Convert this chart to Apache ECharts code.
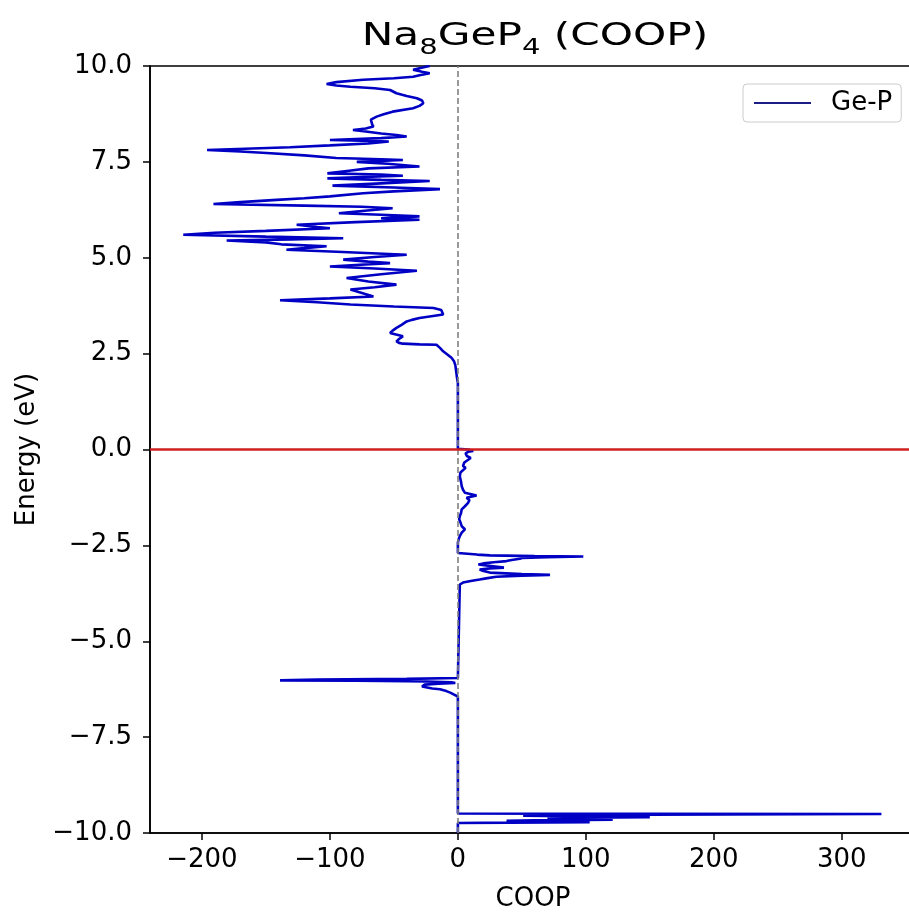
<!DOCTYPE html>
<html>
<head>
<meta charset="utf-8">
<script src="https://cdn.jsdelivr.net/npm/echarts@6/dist/echarts.min.js"></script>
<style>
html,body{margin:0;padding:0;background:#fff;}
#chart{width:909px;height:914px;}
</style>
</head>
<body>
<div id="chart"></div>
<script>
// Energy (eV) along the curve, top to bottom
const energy = [
  10.0, 9.98, 9.94, 9.9, 9.85, 9.81, 9.76, 9.72, 9.68, 9.64, 9.58, 9.53, 9.49, 9.46, 9.42, 9.375,
  9.29, 9.22, 9.16, 9.1, 9.03, 8.96, 8.9, 8.81, 8.74, 8.68, 8.6, 8.55, 8.48, 8.42, 8.37, 8.33,
  8.29, 8.24, 8.2, 8.16, 8.12, 8.07, 8.05, 8.03, 7.98, 7.93, 7.88, 7.81, 7.77, 7.73, 7.67, 7.6,
  7.57, 7.55, 7.5, 7.45, 7.38, 7.33, 7.27, 7.2, 7.17, 7.14, 7.1, 7.07, 7.03, 7.0, 6.94, 6.88,
  6.83, 6.79, 6.73, 6.68, 6.6, 6.55, 6.51, 6.45, 6.4, 6.36, 6.33, 6.29, 6.22, 6.16, 6.12, 6.08,
  6.03, 5.99, 5.93, 5.86, 5.8, 5.77, 5.7, 5.65, 5.6, 5.55, 5.51, 5.48, 5.45, 5.4, 5.35, 5.3,
  5.25, 5.21, 5.15, 5.08, 5.02, 4.95, 4.9, 4.86, 4.81, 4.77, 4.72, 4.66, 4.57, 4.47, 4.38, 4.3,
  4.23, 4.17, 4.08, 3.99, 3.94, 3.89, 3.84, 3.78, 3.73, 3.69, 3.64, 3.6, 3.52, 3.47, 3.43, 3.38,
  3.34, 3.25, 3.17, 3.1, 3.04, 2.98, 2.95, 2.88, 2.82, 2.78, 2.76, 2.74, 2.73, 2.65, 2.56, 2.47,
  2.39, 2.3, 2.2, 2.0, 1.85, 1.74, 0.02,
  0.0, -0.04, -0.06, -0.1, -0.17, -0.22, -0.26, -0.34, -0.43, -0.48, -0.52, -0.6, -0.7, -0.85,
  -0.96, -1.05, -1.13, -1.2, -1.26, -1.32, -1.39, -1.48, -1.56, -1.65, -1.74, -1.82, -1.9, -2.0,
  -2.08, -2.17, -2.26, -2.35, -2.43, -2.7, -2.71, -2.74, -2.76, -2.78, -2.79, -2.81, -2.83, -2.85,
  -2.88, -2.91, -2.94, -2.97, -3.0, -3.04, -3.08, -3.1, -3.13, -3.17, -3.21, -3.25, -3.27, -3.29,
  -3.32, -3.36, -3.39, -3.43, -3.47, -3.52, -3.56, -5.96, -5.98, -6.0, -6.02, -6.03, -6.04, -6.05,
  -6.07, -6.09, -6.11, -6.13, -6.15, -6.18, -6.21, -6.23, -6.25, -6.3, -6.34, -6.39, -6.44, -9.49,
  -9.5, -9.505, -9.52, -9.55, -9.57, -9.59, -9.61, -9.63, -9.65, -9.67, -9.68, -9.7, -9.72, -9.73,
  -9.74, -10.0
];
// COOP value (Ge-P) at each energy
const coop = [
  -22, -25, -30, -35, -28, -22, -30, -35, -50, -74, -95, -102.6, -95, -84, -65, -53,
  -48, -40, -32, -28, -27, -30, -35, -51, -58, -63.5, -68, -69, -67, -66, -72, -82,
  -72, -60, -48, -40, -60, -100, -75, -54, -70, -100, -131, -196, -170, -149.5, -120, -95,
  -60, -43, -79, -55, -30, -70, -85, -102, -60, -43, -80, -102, -60, -22, -60, -98,
  -50, -14, -50, -74, -100, -120, -141.6, -170, -191, -120, -75, -51, -75, -93, -60, -30,
  -60, -30, -80, -126, -110, -100, -150, -190, -214.6, -150, -89.6, -130, -180.7, -150, -138, -102.6,
  -120, -134, -90, -40, -65, -89.6, -70, -53, -80, -100, -65, -32, -60, -87, -70, -48,
  -65, -84, -75, -66, -100, -139, -110, -84, -50, -19, -13, -11.5, -11.5, -11.5, -30, -36,
  -40, -44, -48, -51, -53, -46, -43, -46, -48, -46, -43, -30, -16.7, -14, -11.5, -8,
  -5, -3, -2, -1.2, -0.6, 0, 0,
  8, 12, 8, 6, 7, 10, 9, 5, 4, 6, 5, 2, 1.5, 2.5,
  3, 4, 5.5, 14.6, 6.8, 9, 8, 5.5, 3, 2.5, 1.5, 1, 2, 3,
  5.5, 3, 1.5, 0.5, 0, 0, 1.5, 15, 25, 60, 98, 70, 50, 48.4,
  42, 38, 28, 20, 16, 14.6, 36, 25, 17, 20, 25, 50, 72, 50,
  30, 22, 17, 10, 4, 1.5, 0, 0, -40, -110, -139, -80, -40, -24.5,
  -5, -2, -15, -26, -24.5, -28, -27, -20, -14, -9, -6, -3, 0, 0,
  150, 331, 150, 51, 100, 150, 70, 100, 121, 60, 38, 80, 103, 40,
  0, 0
];
const xTicks = [-200, -100, 0, 100, 200, 300];
const xRange = [-240.6, 358];
const yRange = [-10, 10];
const yStep = 2.5;
const seriesName = 'Ge-P';
const fermiLevel = 0;
const zeroCoop = 0;

const FONT = 'DejaVu Sans';
const fmtMinus = s => s.replace('-', '\u2212');

const chart = echarts.init(document.getElementById('chart'), null, {renderer: 'canvas'});
const data = energy.map((e, i) => [coop[i], e]);

chart.setOption({
  animation: false,
  backgroundColor: '#ffffff',
  grid: {
    left: 150, top: 66, width: 766, height: 767,
    outerBoundsMode: 'none', containLabel: false,
    show: true, borderColor: '#000', borderWidth: 1.6, backgroundColor: 'transparent'
  },
  graphic: [{
    type: 'text',
    x: 535, y: 37,
    scaleX: 1.32,
    style: {
      text: 'Na{s|8}GeP{s|4} (COOP)',
      fontFamily: FONT, fontSize: 32, lineHeight: 43,
      fill: '#000', align: 'center', verticalAlign: 'middle',
      rich: {
        s: {fontFamily: FONT, fontSize: 22, lineHeight: 21, padding: [22, 0, 0, 0], fill: '#000'}
      }
    }
  }],
  legend: {
    data: [{name: seriesName, itemStyle: {opacity: 0}, lineStyle: {color: '#1c1c86', width: 2}}],
    left: 743, top: 84,
    padding: [6, 9, 6, 10],
    itemWidth: 57, itemHeight: 20,
    backgroundColor: '#fff',
    borderColor: '#cccccc', borderWidth: 1, borderRadius: 4,
    textStyle: {fontFamily: FONT, fontSize: 26, color: '#000', padding: [0, 0, 0, 15]}
  },
  xAxis: {
    type: 'value',
    min: xRange[0], max: xRange[1],
    name: 'COOP', nameLocation: 'middle', nameGap: 53,
    nameTextStyle: {fontFamily: FONT, fontSize: 26, color: '#000'},
    axisLine: {show: true, onZero: false, lineStyle: {color: '#000', width: 1.6}},
    axisTick: {show: true, inside: false, length: 7, lineStyle: {color: '#000', width: 1.5}, customValues: xTicks},
    axisLabel: {
      fontFamily: FONT, fontSize: 26, color: '#000', margin: 14,
      customValues: xTicks,
      formatter: v => fmtMinus(String(v))
    },
    splitLine: {show: false}
  },
  yAxis: {
    type: 'value',
    min: yRange[0], max: yRange[1], interval: yStep,
    name: 'Energy (eV)', nameLocation: 'middle', nameGap: 110,
    nameTextStyle: {fontFamily: FONT, fontSize: 26, color: '#000'},
    axisLine: {show: true, onZero: false, lineStyle: {color: '#000', width: 1.6}},
    axisTick: {show: true, inside: false, length: 7, lineStyle: {color: '#000', width: 1.5}},
    axisLabel: {
      fontFamily: FONT, fontSize: 26, color: '#000', margin: 18,
      formatter: v => fmtMinus(v.toFixed(1))
    },
    splitLine: {show: false}
  },
  series: [{
    name: seriesName,
    type: 'line',
    data: data,
    symbol: 'none',
    showSymbol: false,
    color: '#0000c4',
    lineStyle: {color: '#0000c4', width: 2.6},
    z: 2,
    markLine: {
      silent: true,
      symbol: 'none',
      label: {show: false},
      animation: false,
      data: [
        {xAxis: zeroCoop, lineStyle: {color: '#808080', width: 1.6, type: [6, 3]}},
        {yAxis: fermiLevel, lineStyle: {color: '#d02020', width: 2.6, type: 'solid'}}
      ]
    }
  }]
});
</script>
</body>
</html>
